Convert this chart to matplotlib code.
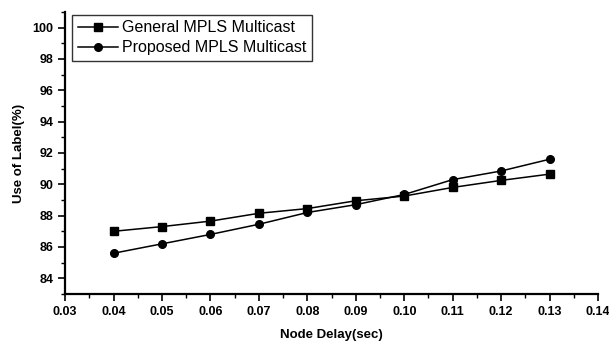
import matplotlib
matplotlib.use('Agg')
import matplotlib.pyplot as plt
from matplotlib.ticker import MultipleLocator

plt.rcParams['font.family'] = ['Liberation Sans', 'DejaVu Sans']

# node delay (sec)
delay = [0.04, 0.05, 0.06, 0.07, 0.08, 0.09, 0.10, 0.11, 0.12, 0.13]
general = [87.0, 87.3, 87.65, 88.15, 88.45, 88.95, 89.25, 89.8, 90.25, 90.65]
proposed = [85.6, 86.2, 86.8, 87.45, 88.2, 88.7, 89.35, 90.3, 90.85, 91.6]

fig = plt.figure(figsize=(6.09, 3.43), dpi=100)
ax = fig.add_axes([0.107, 0.143, 0.875, 0.822])

ax.plot(delay, general, color='black', marker='s', markersize=5.5, linewidth=1.1,
        label='General MPLS Multicast')
ax.plot(delay, proposed, color='black', marker='o', markersize=5.5, linewidth=1.1,
        label='Proposed MPLS Multicast')

ax.set_xlim(0.03, 0.14)
ax.set_ylim(83, 101)
ax.set_xticks([0.03, 0.04, 0.05, 0.06, 0.07, 0.08, 0.09, 0.10, 0.11, 0.12, 0.13, 0.14])
ax.set_xticklabels(['0.03', '0.04', '0.05', '0.06', '0.07', '0.08', '0.09',
                    '0.10', '0.11', '0.12', '0.13', '0.14'])
ax.set_yticks(range(84, 101, 2))
ax.xaxis.set_minor_locator(MultipleLocator(0.005))
ax.yaxis.set_minor_locator(MultipleLocator(1))

for s in ['top', 'right']:
    ax.spines[s].set_visible(False)
for s in ['left', 'bottom']:
    ax.spines[s].set_linewidth(1.6)

ax.tick_params(which='major', direction='out', length=5, width=1.2, labelsize=9)
ax.tick_params(which='minor', direction='out', length=3, width=1)
for lbl in ax.get_xticklabels() + ax.get_yticklabels():
    lbl.set_fontweight('bold')

ax.set_xlabel('Node Delay(sec)', fontsize=9.5, fontweight='bold', labelpad=8)
ax.set_ylabel('Use of Label(%)', fontsize=9.5, fontweight='bold', labelpad=5)

leg = ax.legend(loc='upper left', bbox_to_anchor=(0.013, 0.99), fontsize=11.5,
                frameon=True, fancybox=False, borderaxespad=0,
                handlelength=2.5, handletextpad=0.3, borderpad=0.35,
                labelspacing=0.3)
leg.get_frame().set_edgecolor('black')
leg.get_frame().set_linewidth(1)

fig.savefig('out.png', dpi=100)
